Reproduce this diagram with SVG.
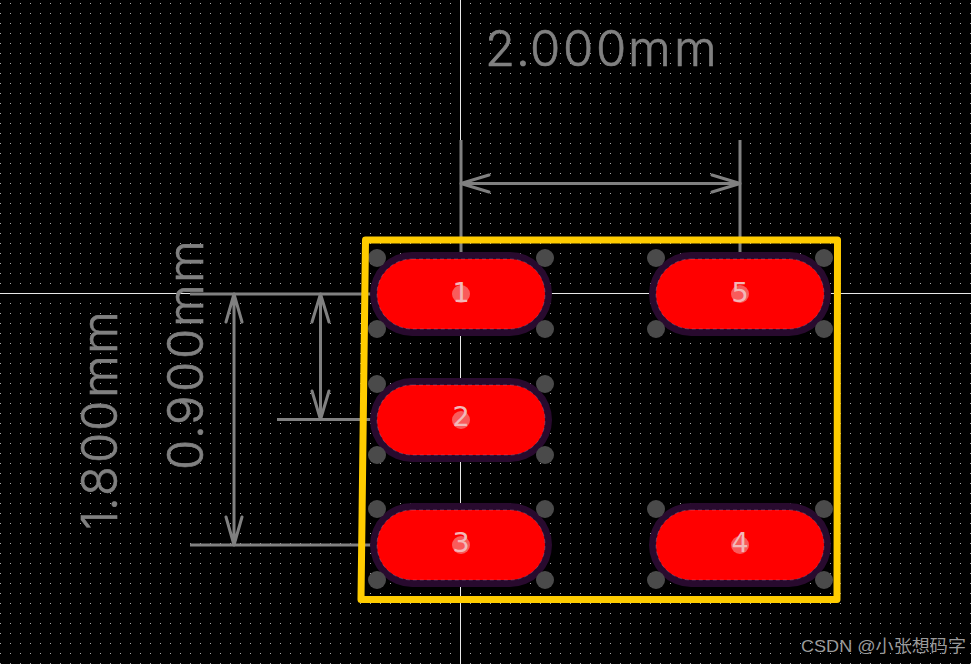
<svg xmlns="http://www.w3.org/2000/svg" width="971" height="664" viewBox="0 0 971 664">
<style>
.dim{fill:none;stroke:#808080;stroke-width:3}
.arr{fill:none;stroke:#808080;stroke-width:3;stroke-linecap:round;stroke-linejoin:round}
.big{font-family:Inter,"Open Sans","Liberation Sans",sans-serif;font-weight:300;font-size:49px;fill:#808080;stroke:#808080;stroke-width:.6}
.halo{fill:#280a2e}
.pad{fill:#ff0000}
.edge{fill:none;stroke:#c79ac7;stroke-opacity:.3;stroke-width:1;stroke-dasharray:4 3}
.corner{fill:#4a4a4a}
.dot{fill:#f4a6a6;fill-opacity:.55}
.num{font-family:"DejaVu Sans","Liberation Sans",sans-serif;font-size:27px;fill:#f3b8b8;text-anchor:middle}
</style>
<defs>
<pattern id="grid" x="0" y="3" width="10" height="10" patternUnits="userSpaceOnUse"><rect width="1" height="1" fill="#a8a8a8"/></pattern>
<g id="padshape">
<rect class="halo" x="-91" y="-42" width="182" height="84" rx="42"/>
<circle cx="-84" cy="-36" r="9" class="corner"/><circle cx="84" cy="-36" r="9" class="corner"/><circle cx="-84" cy="35" r="9" class="corner"/><circle cx="84" cy="35" r="9" class="corner"/>
<rect class="pad" x="-84" y="-35" width="168" height="70" rx="35"/>
<rect class="edge" x="-84" y="-35" width="168" height="70" rx="35"/>
<circle class="dot" cx="0" cy="0" r="9"/>
</g>
</defs>
<rect width="971" height="664" fill="#000"/>
<rect width="971" height="664" fill="url(#grid)"/>
<g id="crosshair" stroke="#e8e8e8" stroke-width="1"><path d="M460.500 0V664M0 293.500H971"/></g>
<g id="connectors">
<path class="dim" d="M461 140V259M740 140V259M190 294H377M277 419.500H377M190 545H377"/>
<path class="arr" d="M461 183.500H740M489 175L461 183.500L489 192M712 175L740 183.500L712 192"/>
<path class="arr" d="M234 294V545M226 322L234 294L242 322M226 517L234 545L242 517"/>
<path class="arr" d="M320.500 294V419.500M312 322L320.500 294L329 322M312 391L320.500 419.500L329 391"/>
</g>
<g id="pad1"><use href="#padshape" x="461" y="294"/><text class="num" x="461" y="302">1</text></g>
<g id="pad2"><use href="#padshape" x="461" y="420"/><text class="num" x="461" y="426">2</text></g>
<g id="pad3"><use href="#padshape" x="461" y="545"/><text class="num" x="461" y="552">3</text></g>
<g id="pad4"><use href="#padshape" x="740" y="545"/><text class="num" x="740" y="552">4</text></g>
<g id="pad5"><use href="#padshape" x="740" y="294"/><text class="num" x="740" y="302">5</text></g>
<g id="outline"><path d="M365.500 240H837.500L837 599.500H361Z" fill="none" stroke="#ffcc00" stroke-width="7" stroke-linejoin="round"/></g>
<g id="labels">
<text class="big" x="485 516 530 563 596 628 674" y="66">2.000mm</text>
<text class="big" transform="translate(117 525) rotate(-90)" x="-5 14 29 62 94 127 171" y="0">1.800mm</text>
<text class="big" transform="translate(203 468) rotate(-90)" x="-2 29 43 76 109 141 185" y="0">0.900mm</text>
<text x="801" y="652" font-family="'Liberation Sans','Noto Sans CJK SC',sans-serif" font-size="16.500" fill="#9a9a9a" textLength="165" lengthAdjust="spacingAndGlyphs">CSDN @小张想码字</text>
</g>
</svg>
